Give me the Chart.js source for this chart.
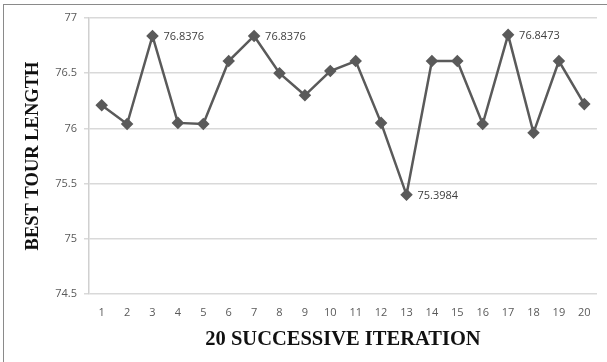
<!DOCTYPE html>
<html>
<head>
<meta charset="utf-8">
<script src="https://cdn.jsdelivr.net/npm/chart.js@4/dist/chart.umd.min.js"></script>
<style>
  html, body { margin: 0; padding: 0; background: #fff; }
  #wrap { position: relative; width: 607px; height: 362px; overflow: hidden; }
  #frame { position: absolute; left: 3px; top: 4px; width: 700px; height: 500px; border: 1.5px solid #8a8a8a; box-sizing: border-box; }
  canvas { position: absolute; left: 0; top: 0; }
</style>
</head>
<body>
<div id="wrap">
  <div id="frame"></div>
  <canvas id="c" width="607" height="362"></canvas>
</div>
<script>
const iterations = ['1','2','3','4','5','6','7','8','9','10','11','12','13','14','15','16','17','18','19','20'];
const bestTourLength = [76.21, 76.04, 76.8376, 76.05, 76.04, 76.61, 76.8376, 76.50, 76.30, 76.52, 76.61, 76.05, 75.3984, 76.61, 76.61, 76.04, 76.8473, 75.96, 76.61, 76.22];
const pointLabels = [null, null, '76.8376', null, null, null, '76.8376', null, null, null, null, null, '75.3984', null, null, null, '76.8473', null, null, null];
const yTicks = [74.5, 75, 75.5, 76, 76.5, 77];

const labelPlugin = {
  id: 'pointLabels',
  afterDatasetsDraw(chart) {
    const ctx = chart.ctx;
    const meta = chart.getDatasetMeta(0);
    ctx.save();
    ctx.font = '11px "Open Sans", "DejaVu Sans", sans-serif';
    ctx.fillStyle = '#404040';
    ctx.textAlign = 'left';
    ctx.textBaseline = 'middle';
    meta.data.forEach((pt, i) => {
      if (pointLabels[i]) ctx.fillText(pointLabels[i], pt.x + 11, pt.y + 1);
    });
    ctx.restore();
  }
};

new Chart(document.getElementById('c'), {
  type: 'line',
  data: {
    labels: iterations,
    datasets: [{
      data: bestTourLength,
      borderColor: '#5a5a5a',
      backgroundColor: '#5a5a5a',
      borderWidth: 2.5,
      pointStyle: 'rectRot',
      pointRadius: 4.5,
      pointHoverRadius: 4.5,
      tension: 0,
      fill: false
    }]
  },
  options: {
    responsive: false,
    animation: false,
    devicePixelRatio: 1,
    layout: { padding: { top: 18, right: 10, left: 0, bottom: 0 } },
    plugins: { legend: { display: false }, tooltip: { enabled: false } },
    scales: {
      x: {
        offset: true,
        grid: { display: false, drawTicks: false },
        border: { display: false },
        ticks: { color: '#595959', font: { size: 11, family: '"Open Sans", "DejaVu Sans", sans-serif' }, padding: 12, maxRotation: 0, autoSkip: false },
        title: { display: true, text: '20 SUCCESSIVE ITERATION', color: '#111', font: { size: 20.5, weight: 'bold', family: '"Liberation Serif", "Times New Roman", serif' }, padding: { top: 0, bottom: 10 } },
        afterFit(scale) { scale.height = 68; }
      },
      y: {
        min: 74.5,
        max: 77,
        afterBuildTicks(scale) { scale.ticks = yTicks.map(v => ({ value: v })); },
        grid: { color: '#d9d9d9', lineWidth: 1.5, tickLength: 5, drawTicks: true },
        border: { display: true, color: '#d0d0d0', width: 1.5 },
        ticks: { color: '#595959', font: { size: 11, family: '"Open Sans", "DejaVu Sans", sans-serif' }, padding: 7, callback: v => String(v) },
        title: { display: true, text: 'BEST TOUR LENGTH', color: '#111', font: { size: 18.5, weight: 'bold', family: '"Liberation Serif", "Times New Roman", serif' }, padding: { top: 22, bottom: 0 } },
        afterFit(scale) { scale.width = 89; }
      }
    }
  },
  plugins: [labelPlugin]
});
</script>
</body>
</html>
